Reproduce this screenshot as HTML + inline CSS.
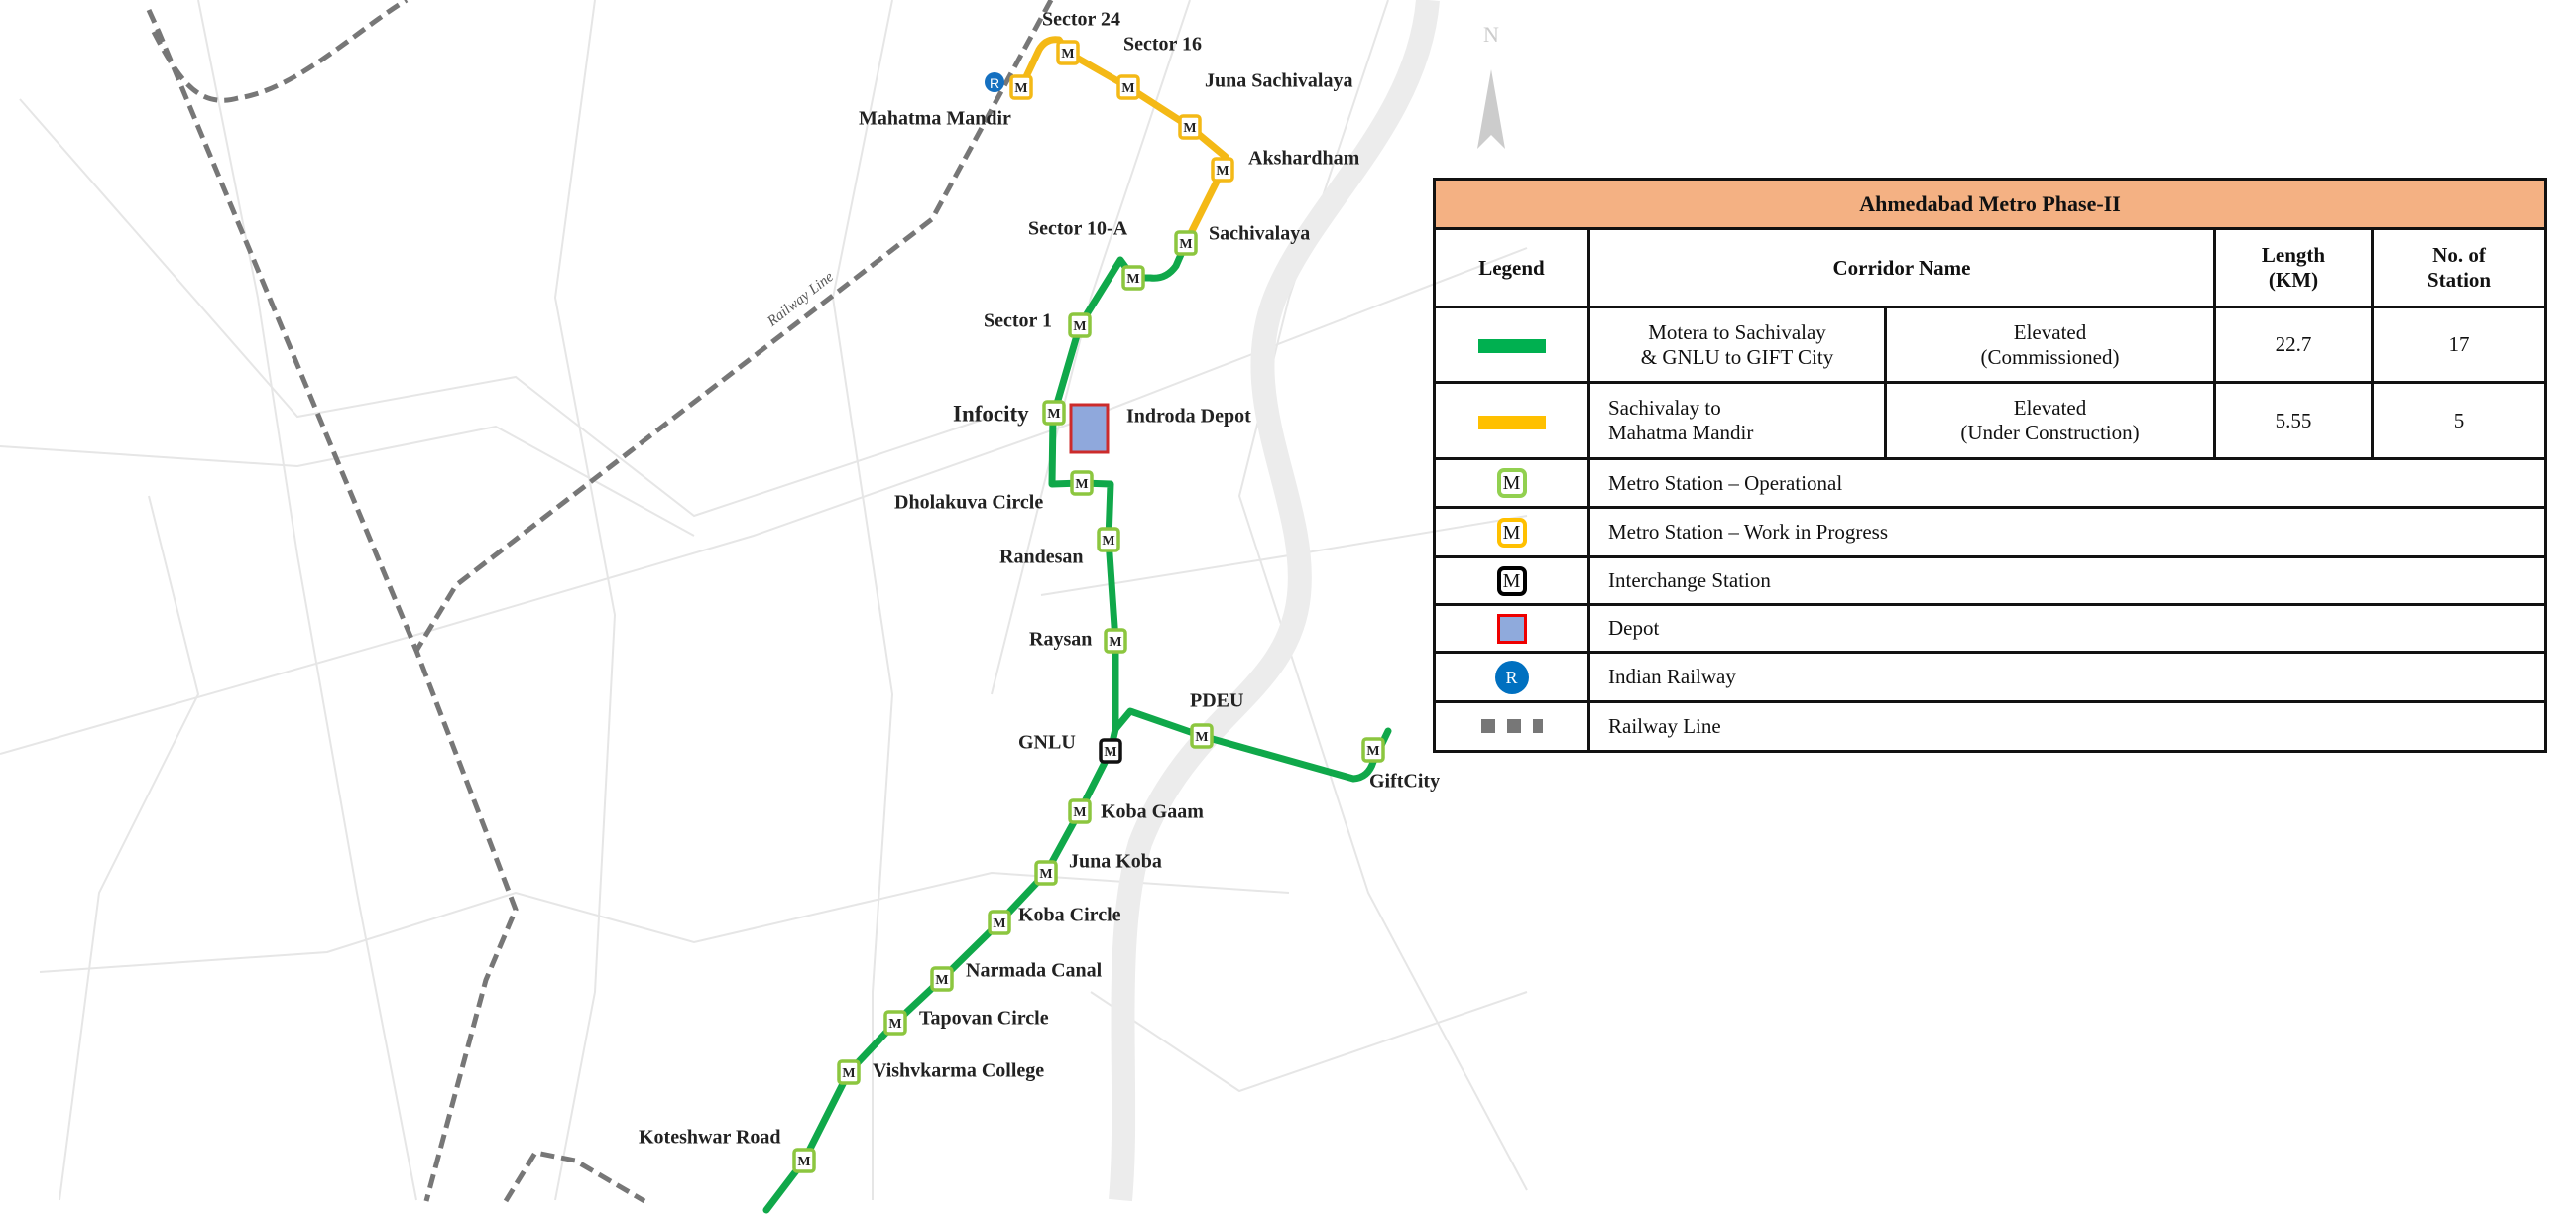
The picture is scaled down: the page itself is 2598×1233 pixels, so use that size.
<!DOCTYPE html>
<html><head><meta charset="utf-8"><style>
html,body{margin:0;padding:0;background:#fff;}
body{width:2598px;height:1233px;position:relative;overflow:hidden;font-family:"Liberation Serif",serif;}
svg{position:absolute;left:0;top:0;}
table{position:absolute;left:1445px;top:179px;width:1124px;border-collapse:collapse;font-family:"Liberation Serif",serif;font-size:21px;color:#111;}
td{border:3px solid #111;text-align:center;padding:0;}
td.l{text-align:left;padding-left:18px;}
.ico{display:inline-block;width:30px;height:30px;border:4px solid;border-radius:7px;box-sizing:border-box;line-height:22px;font-size:20px;text-align:center;}
</style></head><body>
<svg width="2598" height="1233" viewBox="0 0 2598 1233">
<g fill="none" stroke="#e6e6e6" stroke-width="2">
<path d="M20 100 L300 420 L520 380 L700 520 L1000 420"/>
<path d="M0 760 L420 640 L760 540 L1100 420 L1540 250"/>
<path d="M40 980 L330 960 L520 900 L700 950 L1000 880 L1300 900"/>
<path d="M200 0 L260 300 L300 560 L360 900 L420 1210"/>
<path d="M600 0 L560 300 L620 620 L600 1000 L560 1210"/>
<path d="M900 0 L840 300 L900 700 L880 1000 L880 1210"/>
<path d="M0 450 L300 470 L500 430 L700 540"/>
<path d="M1200 0 L1100 300 L1000 700"/>
<path d="M1400 0 L1300 300 L1250 500 L1380 900 L1540 1200"/>
<path d="M60 1210 L100 900 L200 700 L150 500"/>
<path d="M1050 600 L1300 560 L1540 520"/>
<path d="M1100 1000 L1250 1100 L1540 1000"/>
</g>
<path d="M1440 0 C1430 120 1330 200 1290 290 C1240 400 1320 500 1310 600 C1300 700 1200 720 1150 850 C1120 950 1140 1100 1130 1210" fill="none" stroke="#ececec" stroke-width="24"/>
<g fill="none" stroke="#777" stroke-width="5" stroke-dasharray="14 7">
<path d="M155 32 C180 80 200 110 240 99 C300 90 360 30 410 0"/>
<path d="M150 10 L160 32 L420 656 L490 838 L520 917 L490 988 L430 1211"/>
<path d="M1060 0 L940 221 L460 590 L420 656"/>
<path d="M510 1211 L540 1162 L580 1170 L650 1211"/>
</g>
<text x="810" y="305" font-size="15" fill="#555" transform="rotate(-38 810 305)" text-anchor="middle" font-style="italic">Railway Line</text>
<path d="M1504 70 L1490 150 L1504 136 L1518 150 Z" fill="#ccc"/>
<text x="1504" y="42" font-size="22" fill="#ccc" text-anchor="middle">N</text>
<g fill="none" stroke-linecap="round" stroke-linejoin="round" stroke-width="7">
<path d="M1030 88 L1048 50 Q1055 38 1068 40 L1077 53 L1138 88 L1200 128 L1236 158 L1233 171 L1196 245" stroke="#f4b916"/>
<path d="M1196 245 L1186 268 Q1176 282 1160 280 L1143 280 L1130 262 L1089 328 L1068 400 L1062 420 L1061 488 L1091 487 L1120 488 L1118 544 L1125 646 L1125 735 L1120 757 L1089 818 L1055 880 L1008 930 L950 987 L903 1031 L856 1081 L811 1170 L773 1220" stroke="#10a84a"/>
<path d="M1125 735 L1140 717 L1212 742 L1365 785 Q1380 784 1385 768 L1400 737" stroke="#10a84a"/>
</g>
<rect x="1080" y="408" width="37" height="48" fill="#8fa8dc" stroke="#cc2b2b" stroke-width="3"/>
<circle cx="1003" cy="83" r="10" fill="#1570c0"/>
<text x="1003" y="89" font-size="14" fill="#fff" text-anchor="middle" font-family="Liberation Sans">R</text>
<g font-size="14" font-weight="bold" text-anchor="middle">
<g stroke="#f4b916" stroke-width="3.5" fill="#fff">
<rect x="1020" y="77" width="20" height="22" rx="3"/><rect x="1067" y="42" width="20" height="22" rx="3"/>
<rect x="1128" y="77" width="20" height="22" rx="3"/><rect x="1190" y="117" width="20" height="22" rx="3"/>
<rect x="1223" y="160" width="20" height="22" rx="3"/>
</g>
<g stroke="#8cc63f" stroke-width="3.5" fill="#fff">
<rect x="1186" y="234" width="20" height="22" rx="3"/><rect x="1133" y="269" width="20" height="22" rx="3"/>
<rect x="1079" y="317" width="20" height="22" rx="3"/><rect x="1053" y="405" width="20" height="22" rx="3"/>
<rect x="1081" y="476" width="20" height="22" rx="3"/><rect x="1108" y="533" width="20" height="22" rx="3"/>
<rect x="1115" y="635" width="20" height="22" rx="3"/><rect x="1202" y="731" width="20" height="22" rx="3"/>
<rect x="1375" y="745" width="20" height="22" rx="3"/><rect x="1079" y="807" width="20" height="22" rx="3"/>
<rect x="1045" y="869" width="20" height="22" rx="3"/><rect x="998" y="919" width="20" height="22" rx="3"/>
<rect x="940" y="976" width="20" height="22" rx="3"/><rect x="893" y="1020" width="20" height="22" rx="3"/>
<rect x="846" y="1070" width="20" height="22" rx="3"/><rect x="801" y="1159" width="20" height="22" rx="3"/>
</g>
<rect x="1110" y="746" width="20" height="22" rx="3" stroke="#111" stroke-width="3.5" fill="#fff"/>
<g fill="#222">
<text x="1030" y="93">M</text><text x="1077" y="58">M</text><text x="1138" y="93">M</text><text x="1200" y="133">M</text><text x="1233" y="176">M</text>
<text x="1196" y="250">M</text><text x="1143" y="285">M</text><text x="1089" y="333">M</text><text x="1063" y="421">M</text><text x="1091" y="492">M</text>
<text x="1118" y="549">M</text><text x="1125" y="651">M</text><text x="1212" y="747">M</text><text x="1385" y="761">M</text><text x="1120" y="762">M</text>
<text x="1089" y="823">M</text><text x="1055" y="885">M</text><text x="1008" y="935">M</text><text x="950" y="992">M</text><text x="903" y="1036">M</text>
<text x="856" y="1086">M</text><text x="811" y="1175">M</text>
</g></g>
<g font-size="20" font-weight="bold" fill="#222" dominant-baseline="middle">
<text x="1051" y="21">Sector 24</text><text x="1133" y="46">Sector 16</text>
<text x="1215" y="83">Juna Sachivalaya</text><text x="866" y="121">Mahatma Mandir</text>
<text x="1259" y="161">Akshardham</text><text x="1037" y="232">Sector 10-A</text>
<text x="1219" y="237">Sachivalaya</text><text x="992" y="325">Sector 1</text>
<text x="961" y="419" font-size="23">Infocity</text><text x="1136" y="421">Indroda Depot</text>
<text x="902" y="508">Dholakuva Circle</text><text x="1008" y="563">Randesan</text>
<text x="1038" y="646">Raysan</text><text x="1200" y="708">PDEU</text>
<text x="1027" y="750">GNLU</text><text x="1381" y="789">GiftCity</text>
<text x="1110" y="820">Koba Gaam</text><text x="1078" y="870">Juna Koba</text>
<text x="1027" y="924">Koba Circle</text><text x="974" y="980">Narmada Canal</text>
<text x="927" y="1028">Tapovan Circle</text><text x="880" y="1081">Vishvkarma College</text>
<text x="644" y="1148">Koteshwar Road</text>
</g>
</svg>
<table>
<tr style="height:50px;background:#f4b183"><td colspan="5" style="font-weight:bold;font-size:22px">Ahmedabad Metro Phase-II</td></tr>
<tr style="height:79px;font-weight:bold"><td style="width:153px">Legend</td><td colspan="2">Corridor Name</td><td style="width:156px">Length<br>(KM)</td><td>No. of<br>Station</td></tr>
<tr style="height:76px"><td><span style="display:inline-block;width:68px;height:14px;background:#00b050;vertical-align:middle"></span></td><td style="width:296px">Motera to Sachivalay<br>&amp; GNLU to GIFT City</td><td style="width:329px">Elevated<br>(Commissioned)</td><td>22.7</td><td>17</td></tr>
<tr style="height:77px"><td><span style="display:inline-block;width:68px;height:14px;background:#ffc000;vertical-align:middle"></span></td><td class="l">Sachivalay to<br>Mahatma Mandir</td><td>Elevated<br>(Under Construction)</td><td>5.55</td><td>5</td></tr>
<tr style="height:49px"><td><span class="ico" style="border-color:#92d050">M</span></td><td class="l" colspan="4">Metro Station – Operational</td></tr>
<tr style="height:50px"><td><span class="ico" style="border-color:#ffc000">M</span></td><td class="l" colspan="4">Metro Station – Work in Progress</td></tr>
<tr style="height:48px"><td><span class="ico" style="border-color:#000">M</span></td><td class="l" colspan="4">Interchange Station</td></tr>
<tr style="height:48px"><td><span style="display:inline-block;width:30px;height:30px;background:#8faadc;border:3px solid #e00;box-sizing:border-box;vertical-align:middle"></span></td><td class="l" colspan="4">Depot</td></tr>
<tr style="height:50px"><td><span style="display:inline-block;width:34px;height:34px;border-radius:50%;background:#0070c0;color:#fff;line-height:34px;font-size:18px;vertical-align:middle">R</span></td><td class="l" colspan="4">Indian Railway</td></tr>
<tr style="height:50px"><td><span style="display:inline-block;width:14px;height:14px;background:#777;margin:0 6px"></span><span style="display:inline-block;width:14px;height:14px;background:#777;margin:0 6px"></span><span style="display:inline-block;width:10px;height:14px;background:#777;margin:0 6px"></span></td><td class="l" colspan="4">Railway Line</td></tr>
</table>
</body></html>
